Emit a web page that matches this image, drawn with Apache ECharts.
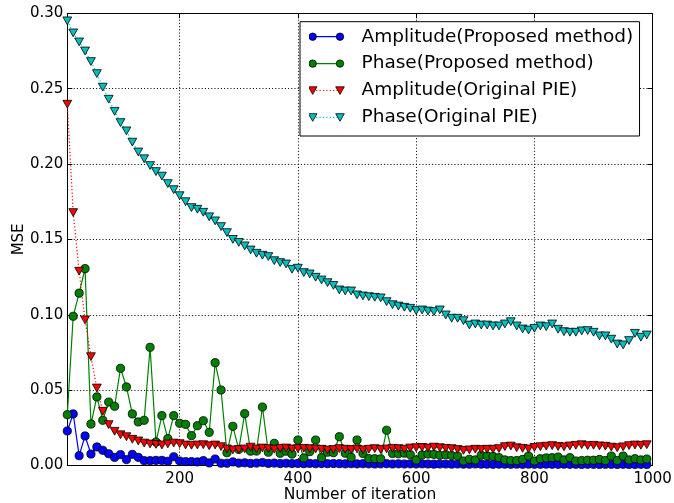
<!DOCTYPE html>
<html>
<head>
<meta charset="utf-8">
<script src="https://cdn.jsdelivr.net/npm/echarts@6/dist/echarts.min.js"></script>
<style>
html,body{margin:0;padding:0;background:#fff;}
#chart{width:674px;height:503px;}
</style>
</head>
<body>
<div id="chart"></div>
<script>
const iterations = [10,20,30,40,50,60,70,80,90,100,110,120,130,140,150,160,170,180,190,200,
210,220,230,240,250,260,270,280,290,300,310,320,330,340,350,360,370,380,390,400,
410,420,430,440,450,460,470,480,490,500,510,520,530,540,550,560,570,580,590,600,
610,620,630,640,650,660,670,680,690,700,710,720,730,740,750,760,770,780,790,800,
810,820,830,840,850,860,870,880,890,900,910,920,930,940,950,960,970,980,990];

const ampProposed = [0.0229,0.0342,0.0065,0.0196,0.0076,0.0123,0.0101,0.0078,0.0054,0.0072,
0.0039,0.0074,0.0054,0.0032,0.0032,0.0034,0.0034,0.0028,0.0058,0.0030,
0.0026,0.0026,0.0024,0.0032,0.0017,0.0043,0.0015,0.0015,0.0024,0.0016,
0.0018,0.0014,0.0016,0.0020,0.0014,0.0016,0.0013,0.0015,0.0013,0.0014,
0.0012,0.0014,0.0012,0.0013,0.0012,0.0013,0.0012,0.0011,0.0012,0.0011,
0.0012,0.0011,0.0010,0.0011,0.0012,0.0010,0.0011,0.0010,0.0011,0.0010,
0.0011,0.0010,0.0009,0.0010,0.0010,0.0009,0.0010,0.0009,0.0009,0.0010,
0.0009,0.0009,0.0008,0.0009,0.0009,0.0008,0.0009,0.0008,0.0009,0.0008,
0.0008,0.0009,0.0008,0.0008,0.0009,0.0008,0.0008,0.0007,0.0008,0.0008,
0.0007,0.0008,0.0008,0.0007,0.0008,0.0007,0.0007,0.0008,0.0007];

const phaseProposed = [0.0337,0.0990,0.1143,0.1306,0.0275,0.0455,0.0300,0.0421,0.0393,0.0645,
0.0521,0.0342,0.0289,0.0300,0.0784,0.0156,0.0331,0.0178,0.0331,0.0280,
0.0273,0.0198,0.0264,0.0297,0.0220,0.0682,0.0501,0.0085,0.0260,0.0107,
0.0344,0.0095,0.0096,0.0388,0.0088,0.0147,0.0081,0.0095,0.0076,0.0169,
0.0050,0.0092,0.0169,0.0052,0.0088,0.0085,0.0191,0.0082,0.0054,0.0169,
0.0080,0.0046,0.0045,0.0044,0.0234,0.0080,0.0078,0.0082,0.0072,0.0037,
0.0070,0.0076,0.0074,0.0068,0.0072,0.0066,0.0063,0.0030,0.0041,0.0037,
0.0068,0.0064,0.0060,0.0052,0.0037,0.0033,0.0033,0.0040,0.0063,0.0030,
0.0045,0.0050,0.0052,0.0056,0.0037,0.0052,0.0030,0.0033,0.0035,0.0035,
0.0040,0.0033,0.0063,0.0033,0.0063,0.0037,0.0045,0.0037,0.0043];

const ampOriginal = [0.2397,0.1678,0.1289,0.0966,0.0722,0.0514,0.0360,0.0271,0.0227,0.0204,
0.0191,0.0174,0.0163,0.0149,0.0143,0.0140,0.0136,0.0143,0.0149,0.0145,
0.0136,0.0134,0.0136,0.0138,0.0131,0.0136,0.0125,0.0110,0.0103,0.0106,
0.0110,0.0122,0.0110,0.0116,0.0112,0.0108,0.0114,0.0116,0.0110,0.0112,
0.0114,0.0112,0.0110,0.0108,0.0103,0.0106,0.0112,0.0108,0.0106,0.0110,
0.0104,0.0108,0.0112,0.0106,0.0110,0.0114,0.0112,0.0108,0.0116,0.0118,
0.0120,0.0116,0.0122,0.0118,0.0114,0.0112,0.0106,0.0100,0.0104,0.0108,
0.0106,0.0108,0.0108,0.0112,0.0125,0.0129,0.0118,0.0114,0.0110,0.0120,
0.0125,0.0128,0.0132,0.0126,0.0124,0.0130,0.0134,0.0138,0.0132,0.0134,
0.0130,0.0128,0.0122,0.0118,0.0124,0.0132,0.0136,0.0134,0.0138];

const phaseOriginal = [0.2950,0.2870,0.2810,0.2750,0.2680,0.2600,0.2510,0.2430,0.2350,0.2275,
0.2220,0.2145,0.2080,0.2035,0.1990,0.1950,0.1920,0.1870,0.1830,0.1790,
0.1750,0.1711,0.1700,0.1680,0.1650,0.1623,0.1585,0.1545,0.1500,0.1480,
0.1457,0.1430,0.1408,0.1395,0.1386,0.1359,0.1346,0.1337,0.1302,0.1309,
0.1280,0.1271,0.1249,0.1231,0.1213,0.1195,0.1165,0.1158,0.1158,0.1132,
0.1125,0.1120,0.1116,0.1112,0.1087,0.1067,0.1058,0.1050,0.1043,0.1028,
0.1032,0.1025,0.1021,0.1032,0.0999,0.0977,0.0977,0.0961,0.0932,0.0939,
0.0932,0.0932,0.0926,0.0926,0.0939,0.0954,0.0926,0.0906,0.0899,0.0910,
0.0926,0.0921,0.0939,0.0904,0.0888,0.0884,0.0884,0.0893,0.0895,0.0884,
0.0860,0.0860,0.0838,0.0806,0.0800,0.0829,0.0877,0.0851,0.0866];

const seriesNames = ['Amplitude(Proposed method)','Phase(Proposed method)','Amplitude(Original PIE)','Phase(Original PIE)'];
const xTicks = [200,400,600,800,1000];
const yTicks = [0,0.05,0.10,0.15,0.20,0.25,0.30];

const FONT = 'DejaVu Sans';
const colors = ['#0000ff','#008000','#ff0000','#00bfbf'];

function pairs(ys){ return iterations.map((x,i)=>[x, ys[i]]); }

function iconSvg(color, kind, dotted){
  const W = 48, H = 12, a = 4.2, b = 31.5, c = 6;
  let s = "<svg xmlns='http://www.w3.org/2000/svg' width='"+W+"' height='"+H+"' viewBox='0 0 "+W+" "+H+"'>";
  s += "<line x1='"+a+"' y1='"+c+"' x2='"+b+"' y2='"+c+"' stroke='"+color+"' stroke-width='1.2'"+(dotted?" stroke-dasharray='1.2,2.2'":"")+"/>";
  [a,b].forEach(function(cx){
    if(kind==='circle'){
      s += "<circle cx='"+cx+"' cy='"+c+"' r='3.7' fill='"+color+"' stroke='#000' stroke-width='0.8'/>";
    } else {
      s += "<polygon points='"+(cx-4.3)+","+(c-3.7)+" "+(cx+4.3)+","+(c-3.7)+" "+cx+","+(c+3.9)+"' fill='"+color+"' stroke='#000' stroke-width='0.8'/>";
    }
  });
  s += "</svg>";
  return 'image://data:image/svg+xml;charset=utf-8,' + encodeURIComponent(s);
}

const chart = echarts.init(document.getElementById('chart'), null, {renderer:'canvas'});

const tickStyle = {show:true, inside:true, length:5, lineStyle:{color:'#000', width:1}};

function lineSeries(name, ys, color, kind, dotted){
  return {
    name: name,
    type: 'line',
    data: pairs(ys),
    xAxisIndex: 0, yAxisIndex: 0,
    showAllSymbol: true,
    symbol: kind === 'circle' ? 'circle' : 'triangle',
    symbolRotate: kind === 'circle' ? 0 : 180,
    symbolSize: kind === 'circle' ? 8.2 : [8.8, 7.8],
    itemStyle: {color: color, borderColor:'#000', borderWidth:0.8},
    lineStyle: {color: color, width: 1.2, type: dotted ? [1.2, 2.2] : 'solid'},
    emphasis: {disabled:true},
    animation: false,
    clip: true
  };
}

chart.setOption({
  animation: false,
  backgroundColor: '#fff',
  textStyle: {fontFamily: FONT},
  grid: {left: 67.3, right: 21.3, top: 13.3, bottom: 37.5, containLabel:false, outerBoundsMode:'none'},
  xAxis: [{
    type: 'value', min: 10, max: 1000, position:'bottom',
    name: 'Number of iteration', nameLocation: 'middle', nameGap: 21, nameMoveOverlap: false,
    nameTextStyle: {fontFamily: FONT, fontSize: 15.5, color:'#000'},
    axisLine: {show:true, onZero:false, lineStyle:{color:'#000', width:1}},
    axisTick: Object.assign({customValues: xTicks}, tickStyle),
    axisLabel: {customValues: xTicks, fontFamily: FONT, fontSize: 15, color:'#000', margin: 6,
      formatter: function(v){ return String(Math.round(v)); }},
    splitLine: {show:true, lineStyle:{color:'#000', width:1, type:[1,2.2]}}
  },{
    type: 'value', min: 10, max: 1000, position:'top',
    axisLine: {show:true, onZero:false, lineStyle:{color:'#000', width:1}},
    axisTick: Object.assign({customValues: xTicks}, tickStyle),
    axisLabel: {show:false},
    splitLine: {show:false}
  }],
  yAxis: [{
    type: 'value', min: 0, max: 0.3, interval: 0.05, position:'left',
    name: 'MSE', nameLocation: 'middle', nameGap: 41, nameRotate: 90, nameMoveOverlap: false,
    nameTextStyle: {fontFamily: FONT, fontSize: 15, color:'#000'},
    axisLine: {show:true, onZero:false, lineStyle:{color:'#000', width:1}},
    axisTick: tickStyle,
    axisLabel: {fontFamily: FONT, fontSize: 15, color:'#000', margin: 4,
      formatter: function(v){ return v.toFixed(2); }},
    splitLine: {show:true, lineStyle:{color:'#000', width:1, type:[1,2.2]}}
  },{
    type: 'value', min: 0, max: 0.3, interval: 0.05, position:'right',
    axisLine: {show:true, onZero:false, lineStyle:{color:'#000', width:1}},
    axisTick: tickStyle,
    axisLabel: {show:false},
    splitLine: {show:false}
  }],
  legend: {
    orient: 'vertical',
    left: 300, top: 21.7,
    padding: [5, 6.3, 8.6, 8.5],
    itemGap: 6.9,
    itemWidth: 48, itemHeight: 12,
    backgroundColor: '#fff',
    borderColor: '#000', borderWidth: 1, borderRadius: 0,
    selectedMode: false,
    textStyle: {fontFamily: FONT, fontSize: 18.5, color:'#000', lineHeight: 20},
    data: [
      {name: seriesNames[0], icon: iconSvg(colors[0], 'circle', false)},
      {name: seriesNames[1], icon: iconSvg(colors[1], 'circle', false)},
      {name: seriesNames[2], icon: iconSvg(colors[2], 'tri', true)},
      {name: seriesNames[3], icon: iconSvg(colors[3], 'tri', true)}
    ]
  },
  series: [
    lineSeries(seriesNames[0], ampProposed, colors[0], 'circle', false),
    lineSeries(seriesNames[1], phaseProposed, colors[1], 'circle', false),
    lineSeries(seriesNames[2], ampOriginal, colors[2], 'tri', true),
    lineSeries(seriesNames[3], phaseOriginal, colors[3], 'tri', true)
  ]
});
</script>
</body>
</html>
